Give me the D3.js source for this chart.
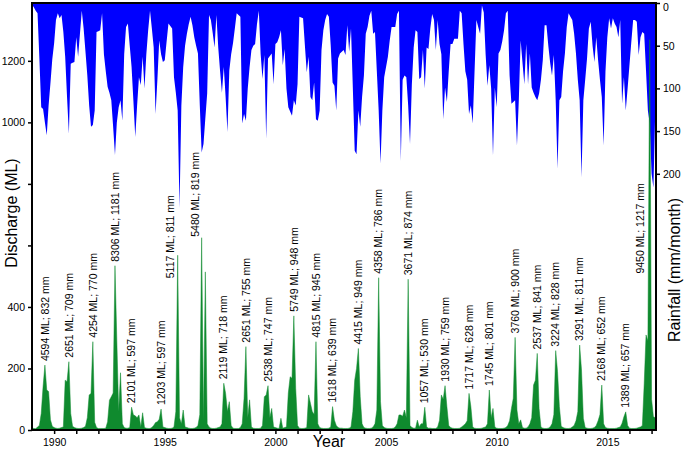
<!DOCTYPE html>
<html>
<head>
<meta charset="utf-8">
<script src="https://cdn.jsdelivr.net/npm/d3@7"></script>
<style>
  body { margin: 0; background: #fff; }
  svg text { font-family: Arial, "Liberation Sans", sans-serif; }
</style>
</head>
<body>
<svg id="chart"></svg>
<script>
// monthly series, Jan 1989 .. Mar 2017
var firstYear = 1989;
var discharge = [
  6, 5, 4, 10, 15, 54, 141, 211, 130, 125, 33, 12,      // 1989
  8, 6, 5, 6, 8, 10, 162, 157, 222, 54, 12, 8,          // 1990
  6, 5, 5, 6, 8, 12, 40, 114, 119, 287, 25, 8,          // 1991
  5, 5, 5, 5, 6, 27, 97, 108, 120, 534, 292, 60,        // 1992
  186, 20, 8, 6, 6, 8, 74, 49, 46, 40, 49, 10,          // 1993
  56, 8, 6, 5, 5, 8, 15, 24, 27, 35, 68, 10,            // 1994
  8, 6, 5, 5, 6, 10, 60, 568, 40, 20, 65, 10,           // 1995
  8, 6, 5, 5, 6, 8, 15, 50, 625, 30, 514, 20,           // 1996
  10, 6, 5, 5, 6, 8, 10, 20, 152, 119, 60, 92,          // 1997
  15, 6, 5, 5, 5, 8, 20, 103, 271, 40, 98, 10,          // 1998
  6, 5, 5, 5, 6, 15, 108, 114, 144, 40, 70, 10,         // 1999
  8, 6, 5, 38, 6, 8, 10, 120, 173, 168, 371, 136,       // 2000
  15, 6, 5, 5, 6, 8, 114, 87, 60, 50, 287, 20,          // 2001
  8, 6, 5, 5, 5, 6, 10, 76, 32, 15, 8, 6,               // 2002
  6, 5, 5, 5, 6, 10, 60, 162, 200, 265, 108, 20,        // 2003
  8, 6, 5, 5, 6, 10, 20, 65, 495, 92, 15, 8,            // 2004
  6, 5, 5, 5, 6, 10, 20, 49, 49, 45, 65, 40,            // 2005
  490, 15, 8, 6, 6, 32, 10, 20, 20, 74, 10, 6,          // 2006
  6, 5, 5, 5, 10, 32, 114, 100, 144, 76, 15, 8,         // 2007
  6, 5, 5, 5, 6, 10, 15, 20, 30, 119, 76, 10,           // 2008
  6, 5, 5, 5, 6, 8, 10, 20, 130, 40, 70, 10,            // 2009
  6, 5, 5, 5, 6, 8, 15, 30, 70, 103, 301, 65,           // 2010
  20, 33, 8, 6, 6, 10, 20, 40, 146, 162, 249, 70,       // 2011
  10, 6, 5, 5, 6, 10, 20, 50, 258, 190, 76, 12,         // 2012
  8, 6, 5, 5, 6, 10, 15, 30, 60, 276, 195, 38,          // 2013
  8, 6, 5, 5, 6, 8, 15, 30, 50, 146, 20, 8,             // 2014
  6, 5, 5, 5, 5, 6, 8, 10, 22, 43, 59, 15,              // 2015
  6, 5, 5, 5, 6, 8, 10, 15, 150, 309, 290, 1269,        // 2016
  100, 43, 40                                           // 2017
];
var rainfall = [
  2, 5, 9, 12, 65, 122, 124, 140, 155, 120, 94, 66,     // 1989
  47, 20, 12, 18, 14, 34, 63, 110, 153, 71, 70, 69,     // 1990
  40, 63, 36, 9, 30, 57, 85, 120, 145, 143, 126, 34,    // 1991
  33, 32, 12, 60, 80, 98, 105, 114, 145, 178, 140, 122, // 1992
  114, 138, 60, 28, 24, 50, 75, 115, 157, 120, 87, 96,  // 1993
  63, 100, 60, 32, 9, 30, 52, 130, 90, 44, 60, 69,      // 1994
  67, 45, 24, 27, 30, 87, 105, 126, 240, 120, 75, 50,   // 1995
  36, 25, 16, 26, 40, 50, 59, 120, 175, 165, 135, 106,  // 1996
  14, 20, 35, 52, 14, 52, 80, 105, 75, 110, 151, 79,    // 1997
  60, 47, 30, 12, 14, 16, 141, 130, 138, 100, 75, 55,   // 1998
  50, 48, 25, 9, 60, 89, 61, 159, 65, 62, 59, 95,       // 1999
  48, 46, 40, 32, 73, 54, 100, 122, 127, 132, 114, 120, // 2000
  95, 16, 17, 18, 50, 81, 63, 110, 114, 93, 136, 138,   // 2001
  126, 55, 32, 20, 13, 16, 50, 93, 97, 126, 65, 59,     // 2002
  57, 55, 61, 26, 57, 30, 100, 173, 177, 126, 145, 110, // 2003
  85, 36, 28, 15, 9, 36, 34, 80, 126, 188, 126, 87,     // 2004
  75, 63, 44, 28, 28, 28, 13, 9, 185, 90, 85, 87,       // 2005
  120, 165, 95, 52, 32, 34, 89, 87, 55, 100, 52, 54,    // 2006
  30, 13, 20, 55, 20, 48, 60, 136, 99, 116, 80, 48,     // 2007
  48, 42, 42, 42, 9, 12, 48, 80, 90, 130, 120, 141,     // 2008
  80, 20, 28, 36, 3, 11, 60, 97, 73, 100, 179, 99,      // 2009
  122, 59, 55, 45, 32, 12, 9, 85, 118, 116, 114, 167,   // 2010
  114, 44, 70, 95, 48, 95, 59, 99, 105, 110, 114, 106,  // 2011
  90, 67, 26, 26, 50, 70, 85, 61, 114, 194, 114, 110,   // 2012
  80, 59, 28, 12, 16, 20, 36, 59, 90, 114, 204, 114,    // 2013
  90, 65, 30, 22, 50, 69, 40, 67, 90, 110, 167, 80,     // 2014
  40, 18, 30, 18, 24, 28, 40, 20, 118, 87, 126, 100,    // 2015
  73, 46, 20, 20, 22, 61, 40, 34, 36, 80, 126, 141,     // 2016
  200, 216, 126                                         // 2017
];

// yearly totals written over each season's peak
var annualML = [4594, 2651, 4254, 8306, 2101, 1203, 5117, 5480, 2119, 2651,
                2538, 5749, 4815, 1618, 4415, 4358, 3671, 1057, 1930, 1717,
                1745, 3760, 2537, 3224, 3291, 2168, 1389, 9450];
var annualMM = [832, 709, 770, 1181, 597, 597, 811, 819, 718, 755,
                747, 948, 945, 639, 949, 786, 874, 530, 759, 628,
                801, 900, 841, 828, 811, 652, 657, 1217];

var yearTicks = [1990, 1995, 2000, 2005, 2010, 2015];
var dischargeTicks = [0, 200, 400, 600, 800, 1000, 1200];
var dischargeTickLabels = [0, 200, 400, 1000, 1200];
var rainTicks = [0, 50, 100, 150, 200];

var svgWidth = 685, svgHeight = 449;
var plotLeft = 32, plotRight = 656, plotTop = 3, plotBottom = 430;
var green = "#0f8a2e", blue = "#0000ff";

var svg = d3.select("#chart")
    .attr("width", svgWidth)
    .attr("height", svgHeight);

var x = d3.scaleLinear().domain([1989, 2017.2]).range([plotLeft, plotRight]);
var yD = d3.scaleLinear().domain([0, 1388]).range([plotBottom, plotTop]);
var yR = d3.scaleLinear().domain([0, 500]).range([plotTop, plotBottom]);

function monthTime(i) { return firstYear + i / 12; }

// rainfall hangs from the top
var rainArea = d3.area()
    .x(function(d, i) { return x(monthTime(i)); })
    .y0(yR(0))
    .y1(function(d) { return yR(d); });

svg.append("path")
    .datum(rainfall)
    .attr("d", rainArea)
    .attr("fill", blue);

var flowArea = d3.area()
    .x(function(d, i) { return x(monthTime(i)); })
    .y0(yD(0))
    .y1(function(d) { return yD(d); });

svg.append("path")
    .datum(discharge)
    .attr("d", flowArea)
    .attr("fill", green)
    .attr("stroke", green)
    .attr("stroke-width", 0.5);

// annotations: one per season, above the biggest month
var nudge = { 6: [-7.5, 27], 7: [-6.5, 3], 27: [-9.5, 238] };
annualML.forEach(function(ml, k) {
    var lo = k * 12 + 3, hi = Math.min(k * 12 + 15, discharge.length);
    var best = lo;
    for (var i = lo; i < hi; i++) if (discharge[i] > discharge[best]) best = i;
    var dx = nudge[k] ? nudge[k][0] : 0, dy = nudge[k] ? nudge[k][1] : 0;
    var px = x(monthTime(best)) + dx, py = yD(discharge[best]) - 4 + dy;
    svg.append("text")
        .attr("transform", "translate(" + px + "," + py + ") rotate(-90)")
        .attr("dy", "0.35em")
        .attr("font-size", "10.5px")
        .attr("fill", "#000")
        .text(ml + " ML; " + annualMM[k] + " mm");
});

// axes
var xAxis = d3.axisBottom(x)
    .tickValues(d3.range(1990, 2018))
    .tickSize(4)
    .tickFormat(function(d) { return yearTicks.indexOf(d) >= 0 ? d : ""; });
var gx = svg.append("g").attr("transform", "translate(0," + plotBottom + ")").call(xAxis);

var leftAxis = d3.axisLeft(yD)
    .tickValues(dischargeTicks)
    .tickSize(4)
    .tickFormat(function(d) { return dischargeTickLabels.indexOf(d) >= 0 ? d : ""; });
var gl = svg.append("g").attr("transform", "translate(" + plotLeft + ",0)").call(leftAxis);

var rightAxis = d3.axisRight(yR)
    .tickValues(rainTicks)
    .tickSize(4);
var gr = svg.append("g").attr("transform", "translate(" + plotRight + ",0)").call(rightAxis);

[gx, gl, gr].forEach(function(g) {
    g.attr("font-size", "10.5px").attr("font-family", "Arial, 'Liberation Sans', sans-serif");
    g.select(".domain").remove();
    g.selectAll(".tick line").attr("stroke", "#000").attr("stroke-width", 1.5);
    g.selectAll(".tick text").attr("fill", "#000");
});
gx.selectAll(".tick text").attr("dy", "0.9em");
// keep the top "0" inside the picture
gr.selectAll(".tick text").filter(function(d) { return d === 0; }).attr("dy", "0.72em");

// frame
svg.append("rect")
    .attr("x", plotLeft).attr("y", plotTop)
    .attr("width", plotRight - plotLeft).attr("height", plotBottom - plotTop)
    .attr("fill", "none")
    .attr("stroke", "#000")
    .attr("stroke-width", 2);

// axis titles
svg.append("text")
    .attr("x", 329).attr("y", 447)
    .attr("text-anchor", "middle")
    .attr("font-size", "16px")
    .text("Year");

svg.append("text")
    .attr("transform", "translate(17,213) rotate(-90)")
    .attr("text-anchor", "middle")
    .attr("font-size", "16px")
    .text("Discharge (ML)");

svg.append("text")
    .attr("transform", "translate(669,270) rotate(-90)")
    .attr("text-anchor", "middle")
    .attr("dy", "0.7em")
    .attr("font-size", "16px")
    .text("Rainfall (mm/month)");
</script>
</body>
</html>
